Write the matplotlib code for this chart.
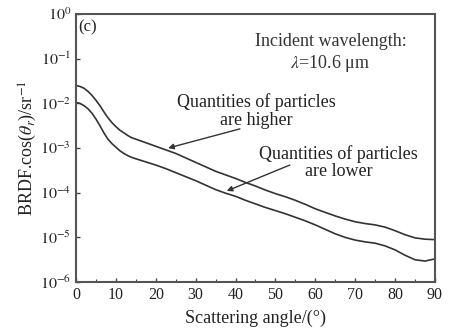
import matplotlib
matplotlib.use("Agg")
import matplotlib.pyplot as plt
import numpy as np

plt.rcParams['font.family'] = ['Liberation Serif', 'DejaVu Serif']
plt.rcParams['mathtext.fontset'] = 'stix'

angles = [0, 1, 2, 3, 4, 5, 6, 7, 8, 9, 10, 11, 12, 13, 14, 15, 17.5, 20, 22.5, 25, 27.5, 30,
          32.5, 35, 37.5, 40, 42.5, 45, 47.5, 50, 52.5, 55, 57.5, 60, 62.5, 65, 67.5, 70,
          72.5, 75, 77.5, 80, 82.5, 85, 87.5, 90]
log_higher = [-1.60, -1.62, -1.66, -1.73, -1.82, -1.93, -2.05, -2.19, -2.32, -2.43, -2.52, -2.60,
              -2.66, -2.72, -2.77, -2.80, -2.88, -2.96, -3.04, -3.12, -3.22, -3.32, -3.42, -3.52,
              -3.60, -3.68, -3.77, -3.85, -3.94, -4.02, -4.09, -4.17, -4.26, -4.36, -4.44, -4.52,
              -4.59, -4.65, -4.69, -4.72, -4.77, -4.85, -4.94, -5.01, -5.04, -5.05]
log_lower = [-1.98, -2.00, -2.05, -2.12, -2.22, -2.35, -2.50, -2.66, -2.80, -2.90, -2.98, -3.06,
             -3.12, -3.17, -3.21, -3.24, -3.31, -3.38, -3.46, -3.55, -3.64, -3.73, -3.83, -3.93,
             -4.01, -4.08, -4.17, -4.25, -4.33, -4.40, -4.47, -4.55, -4.63, -4.72, -4.82, -4.92,
             -5.00, -5.06, -5.10, -5.13, -5.19, -5.28, -5.40, -5.50, -5.53, -5.48]
higher = [10 ** v for v in log_higher]
lower = [10 ** v for v in log_lower]

xticks = [0, 10, 20, 30, 40, 50, 60, 70, 80, 90]
yticks = [1e-6, 1e-5, 1e-4, 1e-3, 1e-2, 1e-1, 1e0]
ytick_labels = [r'$10^{-6}$', r'$10^{-5}$', r'$10^{-4}$', r'$10^{-3}$', r'$10^{-2}$', r'$10^{-1}$', r'$10^{0}$']

fig = plt.figure(figsize=(4.54, 3.35), dpi=100)
ax = fig.add_axes([0.1674, 0.158, 0.7907, 0.800])

col = '#333333'
ax.plot(angles, higher, color=col, lw=1.2)
ax.plot(angles, lower, color=col, lw=1.2)

ax.set_yscale('log')
ax.set_xlim(0, 90)
ax.set_ylim(1e-6, 1e0)
ax.set_xticks(xticks)
ax.set_xticks(np.arange(5, 90, 10), minor=True)
ax.set_yticks(yticks)
ax.set_yticklabels(ytick_labels)
ax.yaxis.set_minor_locator(matplotlib.ticker.NullLocator())
ax.tick_params(direction='in', length=3, width=1, colors='#444444', labelcolor='#222222', labelsize=11.5)
ax.tick_params(which='minor', direction='in', length=2, width=0.8, colors='#444444')
for s in ax.spines.values():
    s.set_linewidth(1.5)
    s.set_color('#555555')

ax.set_xlabel('Scattering angle/(°)', fontsize=13, color='#222222', labelpad=5)
ax.set_ylabel(r'BRDF.cos($\theta_r$)/sr$^{-1}$', fontsize=13, color='#222222', labelpad=1)

ax.text(0.6, 10 ** -0.3, '(c)', fontsize=12, color='#222222', ha='left', va='center')
ax.text(63.8, 10 ** -0.88, 'Incident wavelength:\n' + r'$\lambda$=10.6 μm', fontsize=13, color='#333333',
        ha='center', va='center', linespacing=1.15)

ax.text(45.1, 10 ** -2.17, 'Quantities of particles\nare higher', fontsize=13, color='#222222',
        ha='center', va='center', linespacing=1.1)
ax.text(65.9, 10 ** -3.33, 'Quantities of particles\nare lower', fontsize=13, color='#222222',
        ha='center', va='center', linespacing=1.0)

arrow = dict(arrowstyle='-|>', color=col, lw=1.0, mutation_scale=8, shrinkA=0, shrinkB=0)
ax.annotate('', xy=(23.1, 10 ** -3.00), xytext=(41.1, 10 ** -2.57), arrowprops=arrow)
ax.annotate('', xy=(37.8, 10 ** -3.96), xytext=(53.6, 10 ** -3.38), arrowprops=arrow)

fig.savefig('out.png', dpi=100)
